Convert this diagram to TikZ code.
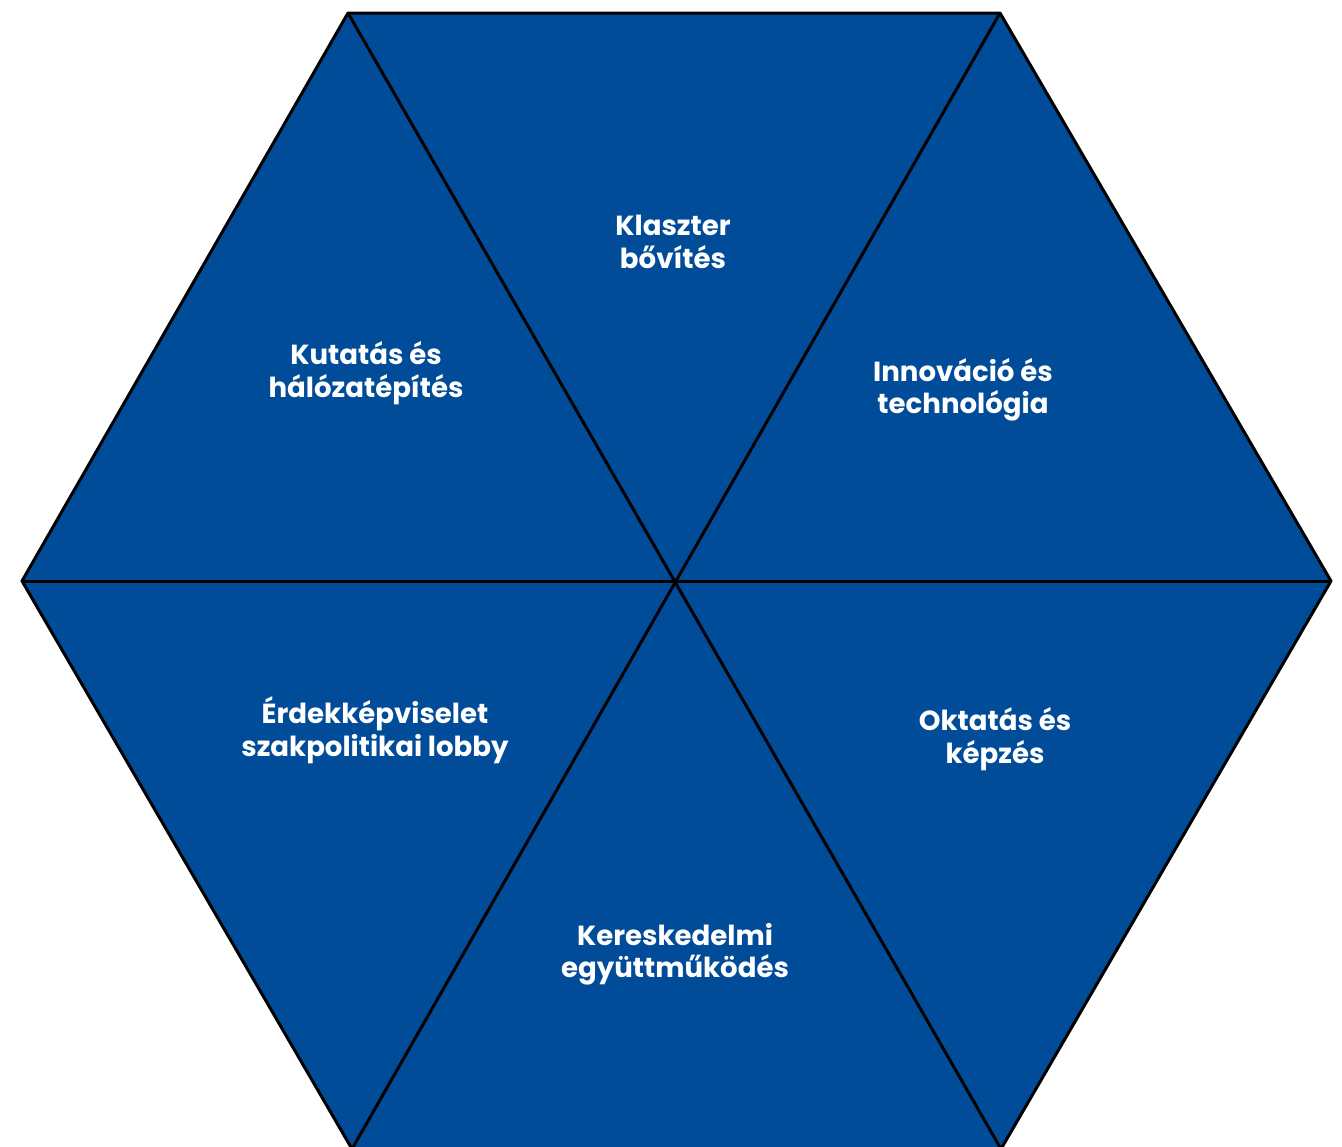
\documentclass[tikz,border=0pt]{standalone}
\usepackage{fontspec}
\setmainfont{Poppins}
\usepackage{tikz}
\definecolor{hexblue}{RGB}{0,76,153}

\begin{document}
\begin{tikzpicture}[x=0.5pt,y=0.5pt]
        \useasboundingbox (0,0) rectangle (1342,-1146);
        \coordinate (C) at (676,-581);
        \coordinate (TL) at (348,-13);
        \coordinate (TR) at (1000,-13);
        \coordinate (R) at (1331,-581);
        \coordinate (BR) at (1001,-1149);
        \coordinate (BL) at (352,-1149);
        \coordinate (L) at (22,-581);
        \fill[hexblue] (TL) -- (TR) -- (R) -- (BR) -- (BL) -- (L) -- cycle;
        \begin{scope}[every path/.style={draw=black, line width=1.5pt, line join=round}]
                \path (TL) -- (TR) -- (R) -- (BR) -- (BL) -- (L) -- cycle;
                \path (L) -- (R);
                \path (TL) -- (BR);
                \path (TR) -- (BL);
        \end{scope}
        \begin{scope}[every node/.style={text=white, font=\bfseries\fontsize{13.8}{16.2}\selectfont, align=center, inner sep=0}]
                \node (klaszter) at (673,-242) {Klaszter\\bővítés};
                \node (kutatas) at (366,-373) {Kutatás és\\hálózatépítés};
                \node (innovacio) at (963,-390) {Innováció és\\technológia};
                \node (erdek) at (375,-730) {Érdekképviselet\\szakpolitikai lobby};
                \node (oktatas) at (995,-739) {Oktatás és\\képzés};
                \node (keresk) at (675,-954) {Kereskedelmi\\együttműködés};
        \end{scope}
\end{tikzpicture}
\end{document}
